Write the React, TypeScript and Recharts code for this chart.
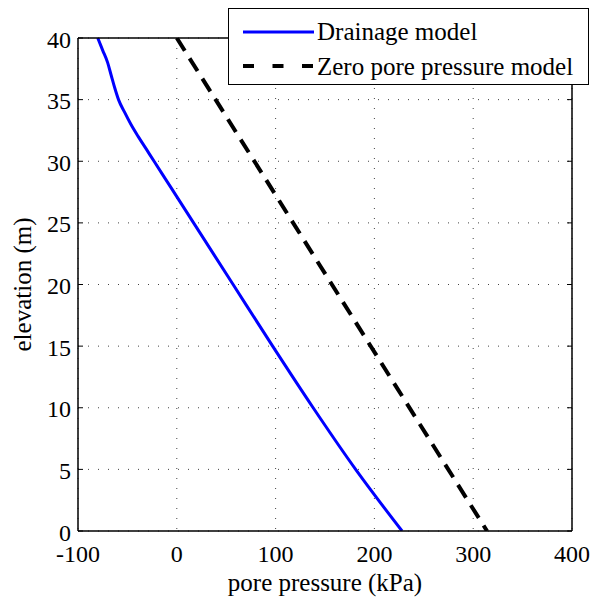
import { CartesianGrid, Line, LineChart, XAxis, YAxis } from "recharts";

const pressureTicks = [-100, 0, 100, 200, 300, 400];
const elevationTicks = [0, 5, 10, 15, 20, 25, 30, 35, 40];

// drainage model (elevation m -> pore pressure kPa)
const drainageElevation = [40, 39, 38, 37, 36, 35, 34, 33, 32, 31, 30, 28, 25, 20, 15, 10, 5, 0];
const drainagePressure = [-80, -75, -70, -66.5, -63, -59, -53, -46.5, -39, -31, -23, -7, 17, 57, 97, 138, 181, 228];

// zero pore pressure model (straight)
const zeroElevation = [40, 0];
const zeroPressure = [0, 314];

const drainageData = drainageElevation.map((z, i) => ({ z, p: drainagePressure[i] }));
const zeroData = zeroElevation.map((z, i) => ({ z, p: zeroPressure[i] }));

const FONT = "'Liberation Serif', 'Times New Roman', serif";
const tickStyle = { fill: "#000", fontSize: 24 };
const noLabel = () => null;

export default function App() {
  return (
    <div style={{ position: "absolute", left: 0, top: 0, width: 592, height: 597, background: "#fff", fontFamily: FONT }}>
      <style>{`.recharts-wrapper svg text, .recharts-text { font-family: 'Liberation Serif', 'Times New Roman', serif !important; }`}</style>
      <LineChart width={592} height={597} margin={{ top: 38, right: 20, bottom: 0, left: 0 }} style={{ fontFamily: FONT }}>
        <CartesianGrid xAxisId="x" yAxisId="y" stroke="#444" strokeDasharray="1 9" />
        <XAxis
          xAxisId="x"
          dataKey="p"
          type="number"
          domain={[-100, 400]}
          ticks={pressureTicks}
          allowDataOverflow
          height={66}
          tickSize={0}
          tickMargin={14}
          tickLine={false}
          tick={tickStyle}
          axisLine={{ stroke: "#000", strokeWidth: 1.5 }}
          label={{ value: "pore pressure (kPa)", position: "insideBottom", offset: 6, fontSize: 25, fill: "#000" }}
        />
        <XAxis xAxisId="xb" type="number" domain={[-100, 400]} ticks={pressureTicks} allowDataOverflow mirror tickSize={5} tick={noLabel} tickLine={{ stroke: "#000" }} axisLine={false} />
        <XAxis xAxisId="xt" orientation="top" type="number" domain={[-100, 400]} ticks={pressureTicks} allowDataOverflow mirror tickSize={5} tick={noLabel} tickLine={{ stroke: "#000" }} axisLine={{ stroke: "#000", strokeWidth: 1.5 }} />
        <YAxis
          yAxisId="y"
          type="number"
          domain={[0, 40]}
          ticks={elevationTicks}
          allowDataOverflow
          width={78}
          tickSize={0}
          tickMargin={7}
          tickLine={false}
          tick={{ ...tickStyle, dy: 1 }}
          axisLine={{ stroke: "#000", strokeWidth: 1.5 }}
          label={{ value: "elevation (m)", angle: -90, position: "insideLeft", offset: 22, fontSize: 25, fill: "#000", style: { textAnchor: "middle" } }}
        />
        <YAxis yAxisId="yl" type="number" domain={[0, 40]} ticks={elevationTicks} allowDataOverflow mirror tickSize={5} tick={noLabel} tickLine={{ stroke: "#000" }} axisLine={false} />
        <YAxis yAxisId="yr" orientation="right" type="number" domain={[0, 40]} ticks={elevationTicks} allowDataOverflow mirror tickSize={5} tick={noLabel} tickLine={{ stroke: "#000" }} axisLine={{ stroke: "#000", strokeWidth: 1.5 }} />
        <Line
          data={drainageData}
          dataKey="z"
          xAxisId="x"
          yAxisId="y"
          type="monotone"
          stroke="#0000ff"
          strokeWidth={3}
          dot={false}
          isAnimationActive={false}
        />
        <Line
          data={zeroData}
          dataKey="z"
          xAxisId="x"
          yAxisId="y"
          type="linear"
          stroke="#000"
          strokeWidth={4}
          strokeDasharray="15 9"
          dot={false}
          isAnimationActive={false}
        />
      </LineChart>

      <div
        style={{
          position: "absolute",
          left: 228,
          top: 8,
          width: 361,
          height: 77,
          boxSizing: "border-box",
          border: "1.5px solid #000",
          background: "#fff",
        }}
      >
        {[
          { name: "Drainage model", color: "#0000ff", dash: undefined, width: 3, top: 8 },
          { name: "Zero pore pressure model", color: "#000", dash: "11 18.5", width: 4, top: 43 },
        ].map((it) => (
          <div key={it.name} style={{ position: "absolute", left: 0, top: it.top, height: 29, display: "flex", alignItems: "center", whiteSpace: "nowrap" }}>
            <svg width={88} height={29} style={{ display: "block" }}>
              <line x1={14} x2={85} y1={it.top === 8 ? 15 : 14} y2={it.top === 8 ? 15 : 14} stroke={it.color} strokeWidth={it.width} strokeDasharray={it.dash} />
            </svg>
            <span style={{ fontSize: 25, lineHeight: "29px", color: "#000", fontFamily: FONT }}>{it.name}</span>
          </div>
        ))}
      </div>
    </div>
  );
}
